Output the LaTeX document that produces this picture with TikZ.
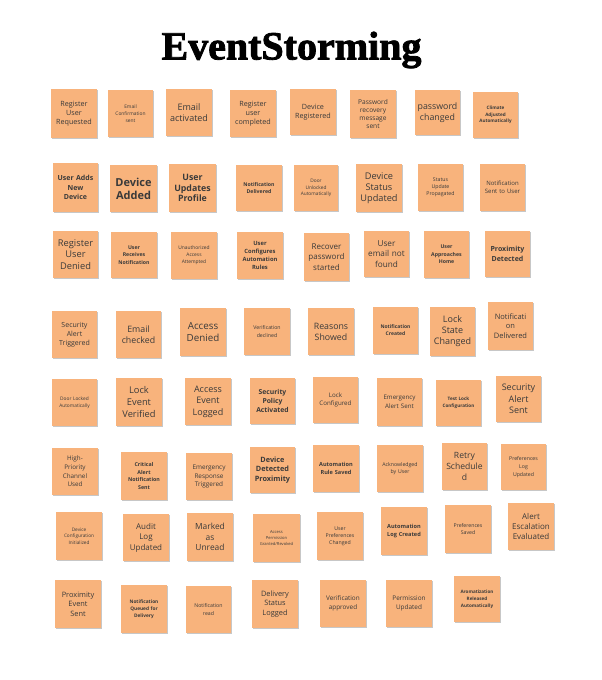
\documentclass[tikz,border=0pt]{standalone}
\usepackage{fontspec}
\setmainfont{Open Sans}
\newfontfamily\titlefont[FakeBold=2]{Liberation Serif}
\usetikzlibrary{shadows}
\definecolor{sticky}{HTML}{F8B37C}
\definecolor{stickytext}{HTML}{3A3A3A}
\tikzset{
  note/.style={fill=sticky, draw=none, inner sep=0pt, align=center, text=stickytext,
    drop shadow={shadow xshift=0.6pt, shadow yshift=-1.2pt, opacity=0.22, fill=black}},
}
% \stk{name}{x1}{y1}{x2}{y2}{font}{text}
\newcommand\stk[7]{%
  \node[note, minimum width={#4-#2}, minimum height={#5-#3},
        text width={#4-#2-3}, font=#6] (#1) at ({(#2+#4)/2},{(#3+#5)/2}) {#7};}
\newcommand\fz[2]{\fontsize{#1}{#2}\selectfont}
\begin{document}
\begin{tikzpicture}[x=1pt,y=-1pt]
\useasboundingbox[fill=white] (0,0) rectangle (602,680);
\node[font=\titlefont\bfseries\fontsize{40}{42}\selectfont, text=black] (title) at (291.5,50) {EventStorming};
% Row 1
\stk{a1}{51}{89}{97}{138}{\fz{7.2}{9}}{Register\\User\\Requested}
\stk{a2}{108}{90}{153}{137}{\fz{4.9}{6.8}}{Email\\Confirmation\\sent}
\stk{a3}{166}{89}{212}{136}{\fz{9}{11}}{Email\\activated}
\stk{a4}{230}{90}{276}{137}{\fz{7.2}{9}}{Register\\user\\completed}
\stk{a5}{290}{89}{336}{135}{\fz{7.2}{9}}{Device\\Registered}
\stk{a6}{350}{90}{396}{138}{\fz{6.6}{8.2}}{Password\\recovery\\message\\sent}
\stk{a7}{415}{90}{460}{135}{\fz{8.8}{11}}{password\\changed}
\stk{a8}{473}{92}{518}{138}{\fz{4.6}{6.4}\bfseries}{Climate\\Adjusted\\Automatically}
% Row 2
\stk{b1}{53}{163}{98}{212}{\fz{7}{9.5}\bfseries}{User Adds\\New\\Device}
\stk{b2}{110}{165}{157}{212}{\fz{11}{13}\bfseries}{Device\\Added}
\stk{b3}{169}{164}{216}{212}{\fz{8.8}{10.8}\bfseries}{User\\Updates\\Profile}
\stk{b4}{236}{165}{282}{211}{\fz{5.2}{7.2}\bfseries}{Notification\\Delivered}
\stk{b5}{294}{165}{338}{211}{\fz{4.8}{6.8}}{Door\\Unlocked\\Automatically}
\stk{b6}{356}{164}{402}{212}{\fz{9.2}{11.2}}{Device\\Status\\Updated}
\stk{b7}{418}{164}{463}{211}{\fz{5.2}{7.2}}{Status\\Update\\Propagated}
\stk{b8}{480}{164}{525}{211}{\fz{6}{8}}{Notification\\Sent to User}
% Row 3
\stk{c1}{53}{231}{98}{278}{\fz{9.3}{11.3}}{Register\\User\\Denied}
\stk{c2}{111}{232}{157}{278}{\fz{5.2}{7.4}\bfseries}{User\\Receives\\Notification}
\stk{c3}{171}{232}{217}{279}{\fz{4.9}{6.8}}{Unauthorized\\Access\\Attempted}
\stk{c4}{237}{232}{283}{279}{\fz{5.8}{7.8}\bfseries}{User\\Configures\\Automation\\Rules}
\stk{c5}{304}{233}{349}{281}{\fz{8}{10.5}}{Recover\\password\\started}
\stk{c6}{364}{231}{409}{277}{\fz{8.2}{10.5}}{User\\email not\\found}
\stk{c7}{424}{231}{469}{278}{\fz{5.2}{7.4}\bfseries}{User\\Approaches\\Home}
\stk{c8}{485}{231}{530}{277}{\fz{7}{9.5}\bfseries}{Proximity\\Detected}
% Row 4
\stk{d1}{52}{311}{97}{358}{\fz{7}{9}}{Security\\Alert\\Triggered}
\stk{d2}{116}{311}{161}{358}{\fz{8.8}{11}}{Email\\checked}
\stk{d3}{180}{308}{226}{356}{\fz{9.8}{12}}{Access\\Denied}
\stk{d4}{244}{308}{290}{355}{\fz{5.2}{7.2}}{Verification\\declined}
\stk{d5}{308}{308}{354}{355}{\fz{8.8}{11}}{Reasons\\Showed}
\stk{d6}{373}{307}{418}{354}{\fz{5}{7.2}\bfseries}{Notification\\Created}
\stk{d7}{430}{307}{475}{356}{\fz{9}{11}}{Lock\\State\\Changed}
\stk{d8}{488}{302}{533}{350}{\fz{7.5}{9.8}}{Notificati\\on\\Delivered}
% Row 5
\stk{e1}{52}{379}{97}{426}{\fz{4.8}{6.8}}{Door Locked\\Automatically}
\stk{e2}{116}{378}{162}{426}{\fz{9.3}{12}}{Lock\\Event\\Verified}
\stk{e3}{185}{378}{231}{425}{\fz{9}{11.5}}{Access\\Event\\Logged}
\stk{e4}{250}{378}{295}{424}{\fz{6.8}{9.2}\bfseries}{Security\\Policy\\Activated}
\stk{e5}{313}{377}{358}{423}{\fz{6.2}{8.5}}{Lock\\Configured}
\stk{e6}{377}{378}{422}{426}{\fz{6.2}{8.5}}{Emergency\\Alert Sent}
\stk{e7}{436}{380}{481}{426}{\fz{4.6}{6.6}\bfseries}{Test Lock\\Configuration}
\stk{e8}{496}{376}{541}{422}{\fz{9}{11.5}}{Security\\Alert\\Sent}
% Row 6
\stk{f1}{52}{448}{98}{495}{\fz{6.3}{8.6}}{High-\\Priority\\Channel\\Used}
\stk{f2}{121}{452}{167}{500}{\fz{5.3}{7.7}\bfseries}{Critical\\Alert\\Notification\\Sent}
\stk{f3}{186}{453}{232}{500}{\fz{6.4}{8.4}}{Emergency\\Response\\Triggered}
\stk{f4}{250}{447}{295}{493}{\fz{7.3}{9.8}\bfseries}{Device\\Detected\\Proximity}
\stk{f5}{313}{445}{359}{492}{\fz{5.6}{7.8}\bfseries}{Automation\\Rule Saved}
\stk{f6}{377}{445}{423}{492}{\fz{5.2}{7.2}}{Acknowledged\\by User}
\stk{f7}{442}{443}{487}{490}{\fz{8.6}{11}}{Retry\\Schedule\\d}
\stk{f8}{501}{444}{546}{490}{\fz{5.2}{8}}{Preferences\\Log\\Updated}
% Row 7
\stk{g1}{56}{512}{102}{560}{\fz{4.7}{6.6}}{Device\\Configuration\\Initialized}
\stk{g2}{123}{514}{169}{561}{\fz{8}{10.5}}{Audit\\Log\\Updated}
\stk{g3}{187}{513}{233}{561}{\fz{8.4}{10.8}}{Marked\\as\\Unread}
\stk{g4}{253}{514}{300}{562}{\fz{4.1}{6}}{Access\\Permission\\Granted/Revoked}
\stk{g5}{317}{512}{363}{560}{\fz{5.2}{7.2}}{User\\Preferences\\Changed}
\stk{g6}{381}{507}{427}{555}{\fz{5.6}{7.8}\bfseries}{Automation\\Log Created}
\stk{g7}{445}{505}{491}{553}{\fz{5.2}{7.2}}{Preferences\\Saved}
\stk{g8}{508}{503}{554}{550}{\fz{8}{10.3}}{Alert\\Escalation\\Evaluated}
% Row 8
\stk{h1}{55}{580}{101}{628}{\fz{7.4}{9.6}}{Proximity\\Event\\Sent}
\stk{h2}{121}{585}{167}{633}{\fz{4.8}{7}\bfseries}{Notification\\Queued for\\Delivery}
\stk{h3}{186}{586}{231}{633}{\fz{5.2}{7.2}}{Notification\\read}
\stk{h4}{252}{580}{298}{628}{\fz{7.4}{9.6}}{Delivery\\Status\\Logged}
\stk{h5}{320}{580}{366}{627}{\fz{6.4}{8.6}}{Verification\\approved}
\stk{h6}{386}{580}{432}{627}{\fz{6.4}{8.6}}{Permission\\Updated}
\stk{h7}{454}{576}{500}{622}{\fz{4.6}{6.8}\bfseries}{Aromatization\\Released\\Automatically}
\end{tikzpicture}
\end{document}
